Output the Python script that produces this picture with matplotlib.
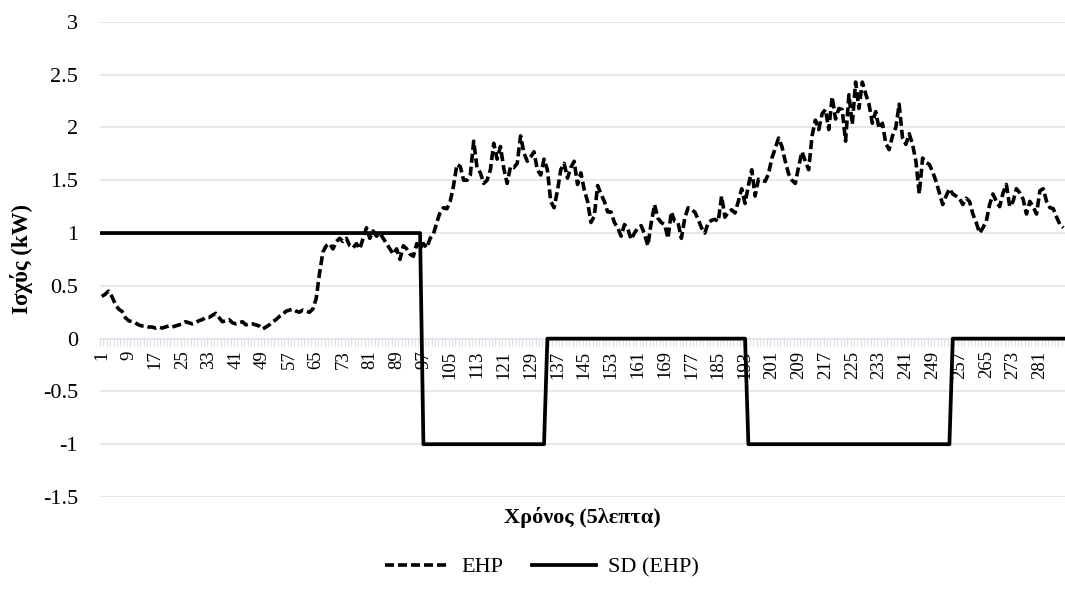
import matplotlib
matplotlib.use("Agg")
import matplotlib.pyplot as plt
import numpy as np
from matplotlib.lines import Line2D

plt.rcParams["font.family"] = ["Liberation Serif", "DejaVu Serif"]

# 5-minute steps over one day
steps = np.arange(1, 289)

ehp = [
    0.40, 0.42, 0.45, 0.40, 0.33, 0.28, 0.26, 0.20,
    0.17, 0.16, 0.15, 0.13, 0.12, 0.12, 0.11, 0.11,
    0.10, 0.11, 0.10, 0.11, 0.12, 0.11, 0.12, 0.13,
    0.14, 0.16, 0.15, 0.14, 0.15, 0.17, 0.18, 0.20,
    0.20, 0.22, 0.24, 0.20, 0.16, 0.17, 0.18, 0.15,
    0.14, 0.15, 0.16, 0.13, 0.14, 0.14, 0.13, 0.12,
    0.09, 0.11, 0.13, 0.16, 0.18, 0.21, 0.23, 0.26,
    0.27, 0.28, 0.26, 0.25, 0.27, 0.26, 0.25, 0.28,
    0.38, 0.62, 0.82, 0.88, 0.90, 0.85, 0.92, 0.95,
    0.92, 0.95, 0.88, 0.86, 0.90, 0.85, 0.95, 1.05,
    0.95, 1.02, 0.97, 1.00, 0.95, 0.90, 0.85, 0.80,
    0.85, 0.75, 0.88, 0.85, 0.80, 0.78, 0.90, 0.85,
    0.90, 0.86, 0.95, 0.99, 1.10, 1.20, 1.24, 1.23,
    1.30, 1.45, 1.65, 1.63, 1.50, 1.50, 1.55, 1.87,
    1.62, 1.57, 1.47, 1.50, 1.60, 1.85, 1.70, 1.82,
    1.61, 1.47, 1.63, 1.62, 1.66, 1.92, 1.76, 1.68,
    1.72, 1.77, 1.60, 1.55, 1.70, 1.60, 1.30, 1.24,
    1.40, 1.60, 1.66, 1.52, 1.62, 1.68, 1.46, 1.57,
    1.41, 1.30, 1.10, 1.16, 1.45, 1.37, 1.30, 1.20,
    1.20, 1.10, 1.05, 0.97, 1.08, 1.04, 0.94, 1.00,
    1.05, 1.07, 0.99, 0.88, 1.10, 1.27, 1.14, 1.10,
    1.08, 0.95, 1.20, 1.11, 1.10, 0.95, 1.14, 1.24,
    1.22, 1.20, 1.13, 1.05, 1.00, 1.10, 1.12, 1.13,
    1.11, 1.35, 1.15, 1.20, 1.22, 1.19, 1.30, 1.42,
    1.28, 1.45, 1.60, 1.35, 1.51, 1.50, 1.49, 1.56,
    1.71, 1.80, 1.90, 1.82, 1.68, 1.56, 1.50, 1.47,
    1.63, 1.77, 1.68, 1.60, 1.92, 2.07, 1.98, 2.13,
    2.17, 1.98, 2.29, 2.08, 2.18, 2.17, 1.87, 2.31,
    2.03, 2.43, 2.18, 2.43, 2.32, 2.22, 2.04, 2.15,
    1.99, 2.04, 1.85, 1.79, 1.92, 2.00, 2.22, 1.90,
    1.84, 1.94, 1.84, 1.68, 1.37, 1.71, 1.67, 1.65,
    1.58, 1.49, 1.38, 1.27, 1.35, 1.42, 1.37, 1.35,
    1.33, 1.27, 1.33, 1.30, 1.18, 1.10, 1.00, 1.05,
    1.11, 1.27, 1.37, 1.30, 1.25, 1.38, 1.46, 1.25,
    1.30, 1.42, 1.38, 1.32, 1.18, 1.30, 1.25, 1.18,
    1.40, 1.42, 1.30, 1.24, 1.23, 1.15, 1.08, 1.05,
]

# SD signal as runs: level and number of steps
sd_levels = [1, -1, 0, -1, 0]
sd_lengths = [96, 37, 60, 61, 34]
sd = np.repeat(sd_levels, sd_lengths)

yticks = [-1.5, -1, -0.5, 0, 0.5, 1, 1.5, 2, 2.5, 3]
ytick_labels = ["-1.5", "-1", "-0.5", "0", "0.5", "1", "1.5", "2", "2.5", "3"]
xtick_steps = list(range(1, 289, 8))

fig = plt.figure(figsize=(10.65, 5.92), dpi=100)
ax = fig.add_axes([0.094, 0.1605, 0.906, 0.8025])

grid_color = "#dde1e7"
dash = (0, (2.5, 1.1))
ax.plot(steps, ehp, color="black", lw=2.6, ls=dash, zorder=3)
ax.plot(steps, sd, color="black", lw=2.7, zorder=4)

ax.set_xlim(0.5, 288.5)
ax.set_ylim(-1.5, 3)
ax.set_yticks(yticks)
ax.set_yticklabels(ytick_labels)
ax.set_xticks(xtick_steps)
ax.set_xticklabels([str(s) for s in xtick_steps])
ax.set_xticks(np.arange(0.5, 289, 1), minor=True)

for y in yticks:
    if y != 0:
        ax.axhline(y, color=grid_color, lw=1.1, zorder=1)

for side in ["top", "right", "left"]:
    ax.spines[side].set_visible(False)
ax.spines["bottom"].set_position(("data", 0))
ax.spines["bottom"].set_color(grid_color)
ax.spines["bottom"].set_linewidth(1.1)
ax.spines["bottom"].set_zorder(2)

ax.tick_params(axis="y", length=0, pad=16, labelsize=16)
ax.tick_params(axis="x", which="major", length=0, pad=8.5, labelsize=13.5,
               labelrotation=90)
ax.tick_params(axis="x", which="minor", length=5, width=0.8,
               color=grid_color, direction="out")

ax.set_ylabel("Iσχύς (kW)", fontsize=16.5, fontweight="bold")
ax.yaxis.set_label_coords(-0.070, 0.5)
ax.set_xlabel("Χρόνος (5λεπτα)", fontsize=16, fontweight="bold")
ax.xaxis.set_label_coords(0.5, -0.021)

handles = [
    Line2D([], [], color="black", lw=2.6, ls=dash),
    Line2D([], [], color="black", lw=2.7),
]
fig.legend(handles, ["EHP", "SD (EHP)"], loc="center", ncol=2,
           bbox_to_anchor=(0.509, 0.042), frameon=False, fontsize=16,
           handlelength=2.9, columnspacing=1.26, handletextpad=0.54)

fig.savefig("out.png", dpi=100)
